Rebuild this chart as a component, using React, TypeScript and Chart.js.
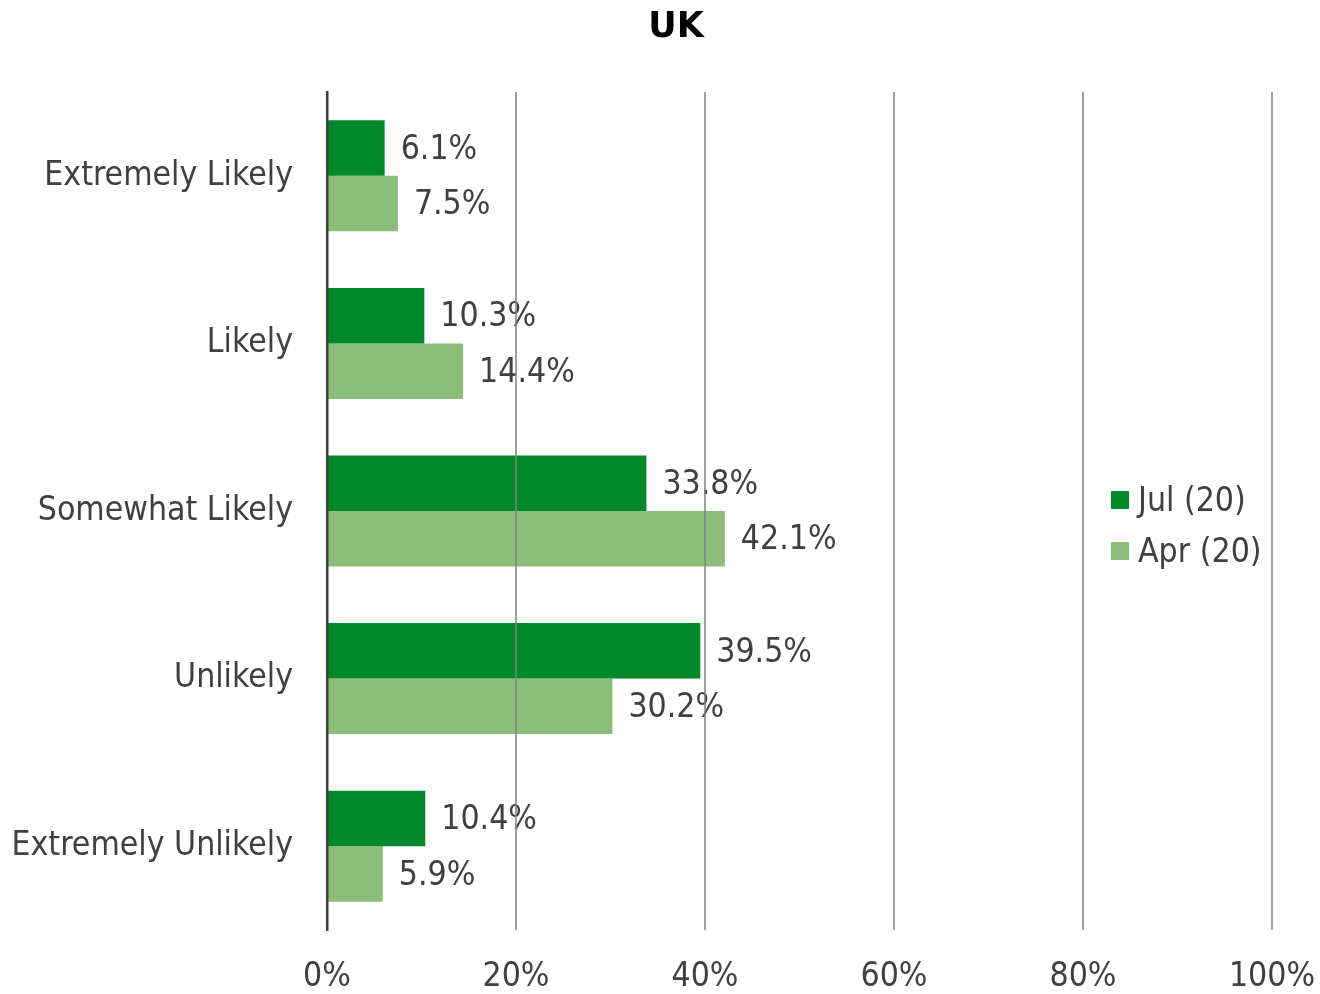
import React, { useEffect, useRef } from "react";
import { Chart, registerables } from "chart.js";

Chart.register(...registerables);

const titleText = "UK";
const categories = ["Extremely Likely", "Likely", "Somewhat Likely", "Unlikely", "Extremely Unlikely"];
const julValues = [6.1, 10.3, 33.8, 39.5, 10.4];
const aprValues = [7.5, 14.4, 42.1, 30.2, 5.9];
const seriesNames = ["Jul (20)", "Apr (20)"];
const xTicks = [0, 20, 40, 60, 80, 100];

const DARK = "#00882B";
const LIGHT = "#8BBE78";
const TEXT = "#404040";
const FONT = "'DejaVu Sans Condensed', 'DejaVu Sans', Verdana, sans-serif";
const FS = 33.5;

const dataLabelPlugin = {
  id: "dataLabels",
  afterDatasetsDraw(chart: any) {
    const ctx = chart.ctx;
    ctx.save();
    ctx.font = `${FS}px ${FONT}`;
    ctx.fillStyle = TEXT;
    ctx.textAlign = "left";
    ctx.textBaseline = "middle";
    chart.data.datasets.forEach((ds: any, di: number) => {
      const meta = chart.getDatasetMeta(di);
      meta.data.forEach((bar: any, i: number) => {
        ctx.fillText(ds.data[i].toFixed(1) + "%", bar.x + 16, bar.y + 2);
      });
    });
    ctx.restore();
  },
};

const legendPlugin = {
  id: "customLegend",
  afterDraw(chart: any) {
    const ctx = chart.ctx;
    const area = chart.chartArea;
    const x = area.right - 161;
    const cy = (area.top + area.bottom) / 2 - 11;
    ctx.save();
    ctx.font = `${FS}px ${FONT}`;
    ctx.textAlign = "left";
    ctx.textBaseline = "middle";
    chart.data.datasets.forEach((ds: any, i: number) => {
      const y = cy + i * 51;
      ctx.fillStyle = ds.backgroundColor;
      ctx.fillRect(x, y - 9, 18, 18);
      ctx.fillStyle = TEXT;
      ctx.fillText(ds.label, x + 27, y + 2);
    });
    ctx.restore();
  },
};

const titlePlugin = {
  id: "customTitle",
  afterDraw(chart: any) {
    const ctx = chart.ctx;
    ctx.save();
    ctx.font = `bold 35px 'DejaVu Sans', Verdana, sans-serif`;
    ctx.fillStyle = "#000";
    ctx.textAlign = "center";
    ctx.textBaseline = "middle";
    ctx.fillText(titleText, chart.width / 2 + 16, 28);
    ctx.restore();
  },
};

export default function App() {
  const ref = useRef<HTMLCanvasElement>(null);
  useEffect(() => {
    const chart = new Chart(ref.current!, {
      type: "bar",
      data: {
        labels: categories,
        datasets: [
          { label: seriesNames[0], data: julValues, backgroundColor: DARK },
          { label: seriesNames[1], data: aprValues, backgroundColor: LIGHT },
        ],
      },
      options: {
        indexAxis: "y",
        animation: false,
        responsive: false,
        maintainAspectRatio: false,
        datasets: { bar: { categoryPercentage: 0.662, barPercentage: 1.0 } },
        layout: { padding: { top: 92, left: 0, right: 0, bottom: 0 } },
        scales: {
          x: {
            min: 0,
            max: 100,
            afterBuildTicks(scale: any) {
              scale.ticks = xTicks.map((v) => ({ value: v }));
            },
            afterFit(scale: any) {
              scale.height = 64;
              scale.paddingLeft = 0;
              scale.paddingRight = 48;
            },
            ticks: {
              callback: (v: any) => v + "%",
              color: TEXT,
              font: { family: FONT, size: FS, lineHeight: 1.0 },
              padding: 31,
              maxRotation: 0,
            },
            grid: {
              color: (c: any) => (c.tick && c.tick.value === 0 ? "rgba(0,0,0,0)" : "rgba(130,130,130,0.75)"),
              lineWidth: 2,
              drawTicks: false,
              z: 1,
            },
            border: { display: false },
          },
          y: {
            afterFit(scale: any) {
              scale.width = 327;
            },
            ticks: {
              color: TEXT,
              font: { family: FONT, size: FS },
              padding: 34,
            },
            grid: { display: false, drawTicks: false },
            border: { display: true, color: "#404040", width: 2.5, z: 2 },
          },
        },
        plugins: {
          legend: { display: false },
          tooltip: { enabled: false },
          title: { display: false },
        },
      },
      plugins: [dataLabelPlugin, legendPlugin, titlePlugin],
    });
    return () => chart.destroy();
  }, []);
  return (
    <div style={{ position: "fixed", left: 0, top: 0, width: 1320, height: 994, background: "#fff" }}>
      <canvas ref={ref} width={1320} height={994} style={{ width: 1320, height: 994 }} />
    </div>
  );
}
